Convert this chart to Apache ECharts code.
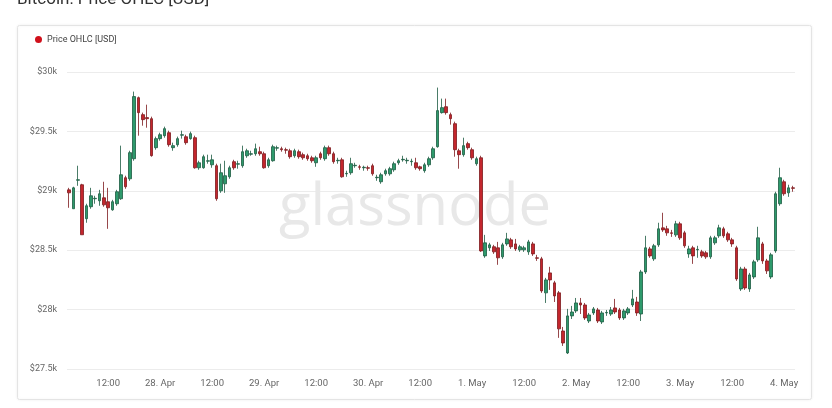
<!DOCTYPE html>
<html>
<head>
<meta charset="utf-8">
<script src="https://cdn.jsdelivr.net/npm/echarts@6/dist/echarts.min.js"></script>
<style>
html,body{margin:0;padding:0;background:#fff;}
#chart{width:832px;height:408px;}
</style>
</head>
<body>
<div id="chart"></div>
<script>
// Hourly candles, first candle 2023-04-27 03:00 (UTC)
const startTime = Date.UTC(2023, 3, 27, 3, 0, 0);
const seriesName = 'Price OHLC [USD]';
const yTicks = [27500, 28000, 28500, 29000, 29500, 30000];

const open = [
29008,28849,29089,29051,28765,28866,28933,28916,28941,28908,
28840,28891,28933,29110,29101,29270,29784,29641,29616,29607,
29363,29439,29464,29489,29363,29388,29468,29455,29439,29447,
29194,29194,29249,29219,29211,29000,29059,29118,29245,29224,
29211,29295,29308,29312,29329,29312,29211,29253,29359,29354,
29346,29337,29295,29329,29304,29295,29278,29236,29312,29270,
29363,29312,29253,29261,29143,29152,29211,29202,29194,29194,
29211,29110,29076,29143,29143,29177,29236,29261,29253,29245,
29236,29202,29169,29219,29278,29371,29658,29708,29641,29565,
29337,29304,29397,29346,29228,29278,28452,28520,28529,28520,
28444,28553,28587,28553,28503,28503,28486,28553,28436,28427,
28141,28309,28225,28141,27820,27635,27947,27989,28056,28039,
27904,27972,27997,27896,27972,27963,28014,27997,27930,27972,
28039,28064,27963,28317,28511,28427,28545,28688,28680,28646,
28629,28722,28646,28469,28520,28503,28486,28478,28444,28562,
28621,28680,28638,28587,28520,28174,28342,28174,28275,28419,
28553,28410,28275,28494,28891,29076,28983,29025
];
const close = [
28983,29025,29093,28630,28874,28958,28937,28975,28882,28857,
28908,28992,29135,29034,29321,29793,29658,29599,29607,29296,
29439,29472,29523,29388,29380,29439,29472,29405,29481,29194,
29236,29287,29253,29261,28933,29152,29127,29194,29194,29228,
29329,29337,29312,29354,29312,29194,29261,29371,29363,29346,
29342,29287,29337,29287,29278,29270,29253,29278,29278,29363,
29312,29245,29257,29118,29147,29228,29215,29198,29198,29190,
29143,29114,29135,29169,29186,29228,29253,29265,29257,29249,
29194,29186,29219,29270,29354,29675,29700,29658,29607,29346,
29304,29380,29363,29278,29270,28494,28562,28545,28486,28436,
28545,28595,28529,28511,28529,28520,28570,28469,28432,28157,
28250,28250,28115,27838,27719,27947,27980,28056,28039,27930,
27955,28006,27904,27972,27976,27997,27980,27930,27989,28006,
28090,27972,28317,28520,28452,28537,28680,28671,28646,28642,
28722,28604,28537,28511,28452,28507,28452,28444,28604,28604,
28688,28621,28587,28553,28258,28342,28182,28292,28402,28604,
28410,28326,28461,28975,29110,28975,29025,29021
];
const low = [
28857,28849,29042,28630,28731,28849,28891,28874,28866,28680,
28832,28874,28924,29017,29084,29253,29464,29548,29531,29287,
29346,29422,29447,29371,29337,29371,29439,29388,29430,29186,
29177,29186,29228,29194,28916,28983,28983,29101,29177,29186,
29194,29278,29295,29295,29295,29186,29194,29245,29337,29329,
29312,29270,29278,29270,29261,29253,29236,29202,29261,29253,
29295,29228,29228,29110,29118,29135,29194,29177,29169,29169,
29127,29084,29059,29127,29127,29160,29219,29245,29228,29211,
29177,29169,29152,29202,29261,29363,29650,29641,29557,29287,
29186,29287,29346,29261,29211,28486,28436,28494,28469,28377,
28427,28537,28511,28494,28486,28486,28461,28452,28410,28141,
28056,28166,28064,27762,27694,27626,27921,27972,27963,27913,
27887,27955,27887,27879,27947,27947,27963,27913,27913,27955,
28022,27947,27904,28300,28436,28410,28528,28654,28621,28612,
28612,28587,28520,28436,28385,28436,28436,28427,28427,28545,
28604,28604,28570,28528,28242,28157,28166,28149,28258,28402,
28385,28300,28258,28478,28874,28958,28949,28992
];
const high = [
29025,29034,29211,29059,28891,29025,28958,29008,29076,29025,
28924,29008,29380,29127,29337,29835,29793,29658,29725,29624,
29456,29489,29540,29506,29405,29456,29506,29472,29498,29464,
29253,29304,29304,29304,29228,29228,29253,29211,29261,29253,
29380,29354,29337,29397,29371,29329,29278,29388,29380,29371,
29363,29354,29354,29346,29321,29312,29295,29295,29329,29380,
29380,29329,29278,29278,29169,29278,29236,29219,29211,29211,
29228,29135,29152,29186,29202,29245,29270,29295,29278,29270,
29278,29211,29236,29287,29371,29869,29776,29776,29658,29582,
29354,29447,29413,29363,29287,29295,28629,28562,28545,28570,
28562,28646,28604,28595,28545,28537,28587,28570,28461,28444,
28267,28360,28242,28157,27854,28006,28031,28098,28098,28056,
27972,28022,28014,27989,27997,28022,28090,28014,28006,28022,
28166,28107,28334,28621,28528,28553,28731,28815,28705,28671,
28747,28739,28663,28537,28537,28537,28503,28494,28621,28621,
28714,28697,28655,28604,28537,28360,28360,28309,28419,28697,
28570,28427,28478,28992,29194,29093,29051,29042
];

const months = ['Jan','Feb','Mar','Apr','May','Jun','Jul','Aug','Sep','Oct','Nov','Dec'];
const categories = [];
for (let i = 0; i < open.length; i++) categories.push(startTime + i * 3600000);
const ohlc = open.map((o, i) => [o, close[i], low[i], high[i]]);

const chart = echarts.init(document.getElementById('chart'), null, {renderer: 'canvas'});
chart.setOption({
  animation: false,
  backgroundColor: '#fff',
  graphic: [
    {type: 'rect', z: -1, silent: true,
     shape: {x: 17.5, y: 25.5, width: 794, height: 374, r: 2},
     style: {fill: '#fff', stroke: '#e4e4e4', lineWidth: 1, shadowBlur: 3, shadowColor: 'rgba(0,0,0,0.06)'}},
    {type: 'text', x: 17, y: -9, silent: true,
     style: {text: 'Bitcoin: Price OHLC [USD]', fontSize: 17, fontFamily: 'Roboto, sans-serif', fill: '#333'}},
    {type: 'text', x: 415, y: 208, z: 1, silent: true,
     style: {text: 'glassnode', fontSize: 58, fontFamily: 'Open Sans, sans-serif', fontWeight: 500,
             fill: '#e8e8e8', align: 'center', verticalAlign: 'middle'}}
  ],
  legend: {
    left: 30, top: 30, icon: 'circle', itemWidth: 7, itemHeight: 7, itemGap: 10,
    textStyle: {fontSize: 9, color: '#444', fontFamily: 'Roboto, sans-serif'},
    data: [{name: seriesName, itemStyle: {color: '#d0101b', borderColor: '#d0101b', borderWidth: 0}}]
  },
  grid: {left: 67, right: 37, top: 72, bottom: 39},
  xAxis: {
    type: 'category', data: categories, boundaryGap: true,
    axisLine: {show: false}, axisTick: {show: false},
    splitLine: {show: false},
    axisLabel: {
      color: '#666', fontSize: 9.5, margin: 10, fontFamily: 'Roboto, sans-serif',
      interval: function (idx, val) { const d = new Date(Number(val)); return d.getUTCHours() % 12 === 0; },
      formatter: function (val) {
        const d = new Date(Number(val));
        if (d.getUTCHours() === 0) return d.getUTCDate() + '. ' + months[d.getUTCMonth()];
        return '12:00';
      }
    }
  },
  yAxis: {
    type: 'value', min: yTicks[0], max: yTicks[yTicks.length - 1], interval: 500,
    axisLine: {show: false}, axisTick: {show: false},
    splitLine: {lineStyle: {color: '#ececec', width: 1}},
    axisLabel: {color: '#666', fontSize: 9, margin: 10, fontFamily: 'Roboto, sans-serif',
      formatter: v => '$' + (v / 1000) + 'k'}
  },
  series: [{
    name: seriesName, type: 'candlestick', data: ohlc, barWidth: 3.2,
    itemStyle: {
      color: '#2e9a6c', borderColor: '#1c5a41',
      color0: '#c4262d', borderColor0: '#7c191d', borderWidth: 0.8
    }
  }]
});
</script>
</body>
</html>
